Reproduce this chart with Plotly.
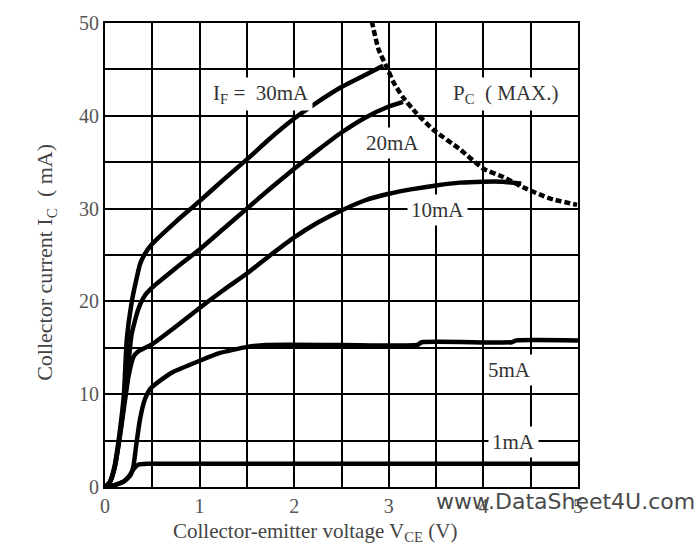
import plotly.graph_objects as go

# ---- data ----
vce_30 = [0, 0.05, 0.1, 0.15, 0.2, 0.23, 0.28, 0.33, 0.37, 0.42, 0.5, 0.75, 1.0, 1.25, 1.5, 1.75, 2.0, 2.25, 2.5, 2.75, 2.94]
ic_30 = [0, 0.5, 2.2, 5.5, 10.0, 15.9, 19.8, 22.3, 24.0, 25.1, 26.2, 28.6, 30.8, 33.1, 35.3, 37.6, 39.7, 41.5, 43.1, 44.4, 45.4]

vce_20 = [0, 0.05, 0.1, 0.15, 0.2, 0.25, 0.28, 0.35, 0.42, 0.5, 0.75, 1.0, 1.25, 1.5, 1.75, 2.0, 2.25, 2.5, 2.75, 3.0, 3.15]
ic_20 = [0, 0.5, 2.0, 5.0, 9.0, 13.5, 16.4, 19.1, 20.6, 21.5, 23.6, 25.6, 27.8, 30.0, 32.2, 34.3, 36.3, 38.2, 39.8, 41.0, 41.5]

vce_10 = [0, 0.05, 0.1, 0.15, 0.2, 0.25, 0.3, 0.35, 0.5, 0.75, 1.0, 1.25, 1.5, 1.75, 2.0, 2.25, 2.5, 2.75, 3.0, 3.25, 3.5, 3.75, 4.0, 4.2, 4.4]
ic_10 = [0, 0.5, 2.0, 5.0, 8.5, 12.0, 14.0, 14.6, 15.4, 17.3, 19.3, 21.2, 23.0, 25.0, 26.9, 28.5, 29.8, 30.9, 31.6, 32.1, 32.5, 32.8, 32.9, 32.9, 32.7]

vce_5 = [0, 0.1, 0.2, 0.27, 0.3, 0.33, 0.37, 0.42, 0.48, 0.6, 0.72, 1.0, 1.2, 1.5, 1.7, 2.5, 3.3, 3.35, 4.3, 4.35, 5.0]
ic_5 = [0, 0.2, 0.6, 1.3, 2.2, 4.5, 7.3, 9.4, 10.6, 11.6, 12.4, 13.6, 14.4, 15.1, 15.3, 15.3, 15.3, 15.6, 15.6, 15.8, 15.8]

vce_1 = [0, 0.1, 0.2, 0.25, 0.3, 0.35, 0.45, 1.0, 2.0, 3.0, 4.0, 5.0]
ic_1 = [0, 0.2, 0.6, 1.1, 1.9, 2.4, 2.5, 2.5, 2.5, 2.5, 2.5, 2.5]

vce_pc = [2.82, 2.89, 2.98, 3.05, 3.15, 3.29, 3.47, 3.75, 4.0, 4.21, 4.42, 4.7, 4.99]
ic_pc = [50.2, 47.2, 45.2, 43.6, 42.0, 40.3, 38.5, 36.4, 34.3, 33.4, 32.3, 31.1, 30.4]

x_ticks = [0, 1, 2, 3, 4, 5]
y_ticks = [0, 10, 20, 30, 40, 50]

label_text = ["I<sub>F</sub> =  30mA", "20mA", "10mA", "5mA", "1mA", "P<sub>C</sub>  ( MAX.)"]
label_x = [1.65, 3.04, 3.51, 4.28, 4.32, 4.23]
label_y = [42.3, 37.1, 29.9, 12.6, 4.8, 42.3]

serif = "Liberation Serif"
ink = "black"

fig = go.Figure()
for xs, ys in [(vce_30, ic_30), (vce_20, ic_20), (vce_10, ic_10), (vce_5, ic_5), (vce_1, ic_1)]:
    fig.add_trace(go.Scatter(x=xs, y=ys, mode="lines",
                             line=dict(color=ink, width=4.5, shape="spline", smoothing=0.5),
                             showlegend=False, hoverinfo="skip"))
fig.add_trace(go.Scatter(x=vce_pc, y=ic_pc, mode="lines",
                         line=dict(color=ink, width=4.5, dash="6px,3px", shape="spline", smoothing=0.5),
                         showlegend=False, hoverinfo="skip"))

for t, x, y in zip(label_text, label_x, label_y):
    fig.add_annotation(x=x, y=y, xref="x", yref="y", text=t, showarrow=False,
                       font=dict(family=serif, size=21, color="#333"),
                       bgcolor="white", borderpad=3)

W, H = 699, 546
L, R, T, B = 105, 121, 15, 59
pw, ph = W - L - R, H - T - B

def px(xp):
    return (xp - L) / pw

def py(yp):
    return (H - B - yp) / ph

fig.add_annotation(x=px(30), y=py(259), xref="paper", yref="paper",
                   text="Collector current I<sub>C</sub>  ( mA)", textangle=-90, showarrow=False,
                   font=dict(family=serif, size=22, color="#444"))
fig.add_annotation(x=px(171), y=py(518), xref="paper", yref="paper", xanchor="left", yanchor="top",
                   text="Collector-emitter voltage V<sub>CE</sub> (V)", showarrow=False,
                   font=dict(family=serif, size=21, color="#444"))
fig.add_annotation(x=px(697), y=py(517), xref="paper", yref="paper", xanchor="right",
                   text="www.DataSheet4U.com", showarrow=False,
                   font=dict(family="DejaVu Sans", size=22, color="#4a4a4a"))

axis_common = dict(showline=True, linecolor=ink, linewidth=2, mirror=True,
                   showgrid=True, gridcolor=ink, gridwidth=2, zeroline=False,
                   ticks="", tickfont=dict(family=serif, size=20, color="#555"))

fig.update_xaxes(range=[0, 5], tickvals=x_ticks,
                 minor=dict(dtick=0.5, showgrid=True, gridcolor=ink, gridwidth=2),
                 **axis_common)
fig.update_yaxes(range=[0, 50], tickvals=y_ticks,
                 minor=dict(dtick=5, showgrid=True, gridcolor=ink, gridwidth=2),
                 **axis_common)

fig.update_layout(width=W, height=H, margin=dict(l=L, r=R, t=T, b=B),
                  paper_bgcolor="white", plot_bgcolor="white")

fig.write_html("out.html")
